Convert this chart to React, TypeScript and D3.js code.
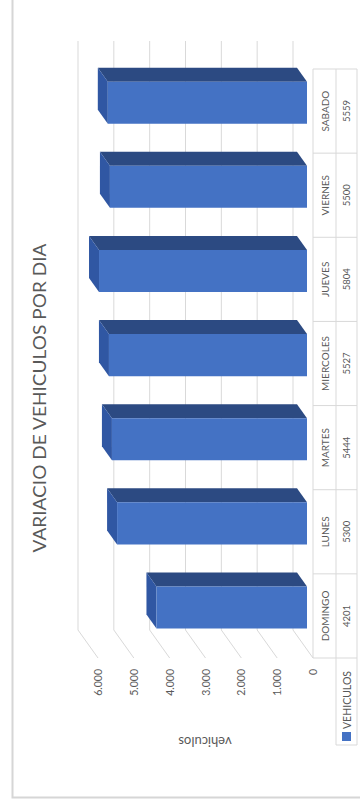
import React from "react";
import * as d3 from "d3";

const categories = ["DOMINGO", "LUNES", "MARTES", "MIERCOLES", "JUEVES", "VIERNES", "SABADO"];
const values = [4201, 5300, 5444, 5527, 5804, 5500, 5559];
const ticks = [0, 1000, 2000, 3000, 4000, 5000, 6000];
const tickLabels = ["0", "1.000", "2.000", "3.000", "4.000", "5.000", "6.000"];
const seriesName = "VEHICULOS";
const title = "VARIACIO DE VEHICULOS POR DIA";
const axisTitle = "vehiculos";

const W = 360;
const H = 805;
const FONT = "Lato, 'Open Sans', sans-serif";
const TXT = "#595959";
const GRID = "#d9d9d9";

export default function App() {
  // wall plane (depth 0): value -> screen x
  const x = d3.scaleLinear().domain([0, 6000]).range([293, 78]);
  const y = d3.scaleBand<string>().domain(categories).range([630, 41]);
  const DX = 20;
  const DY = 28;
  const p = (v: number, yy: number, z: number): [number, number] => [x(v) + DX * z, yy + DY * z];
  const zBack = 0.2;
  const zFront = 0.7;
  const bw = y.bandwidth();
  const wallTop = 41;
  const wallBottom = 630;
  const tableX0 = x(0) + DX;
  const tableX1 = 336;
  const tableX2 = 357;
  const poly = (pts: [number, number][]) => pts.map((q) => q.join(",")).join(" ");

  return (
    <svg width={W} height={H} style={{ position: "absolute", left: 0, top: 0, background: "#fff" }} fontFamily={FONT}>
      <rect x={0} y={0} width={W} height={H} fill="#fff" />
      {/* outer border */}
      <path d={`M12.5,-5 V797.5 H365`} fill="none" stroke="#d6d6d6" strokeWidth={2} />
      {/* title */}
      <text
        transform={`translate(39,398) rotate(-90)`}
        textAnchor="middle"
        dominantBaseline="central"
        fontSize={17}
        fill={TXT}
        textLength={309}
        lengthAdjust="spacingAndGlyphs"
      >
        {title}
      </text>
      {/* gridlines on wall + floor */}
      {ticks.map((t) => (
        <path
          key={t}
          d={`M${x(t)},${wallTop} V${wallBottom} L${x(t) + DX},${wallBottom + DY}`}
          fill="none"
          stroke={GRID}
          strokeWidth={1}
        />
      ))}
      {/* tick labels */}
      {ticks.map((t, i) => (
        <text
          key={"l" + t}
          transform={`translate(${x(t) + DX},669) rotate(-90)`}
          textAnchor="end"
          dominantBaseline="central"
          fontSize={10.5}
          fill={TXT}
        >
          {tickLabels[i]}
        </text>
      ))}
      {/* axis title */}
      <text
        transform={`translate(205,742) rotate(180)`}
        textAnchor="middle"
        dominantBaseline="central"
        fontSize={13}
        fill={TXT}
      >
        {axisTitle}
      </text>
      {/* bars */}
      {categories.map((c, i) => {
        const v = values[i];
        const y0 = (y(c) as number) + bw * 0.25;
        const y1 = y0 + bw * 0.5;
        const front: [number, number][] = [p(v, y0, zFront), p(0, y0, zFront), p(0, y1, zFront), p(v, y1, zFront)];
        const top: [number, number][] = [p(v, y0, zBack), p(0, y0, zBack), p(0, y0, zFront), p(v, y0, zFront)];
        const end: [number, number][] = [p(v, y0, zBack), p(v, y0, zFront), p(v, y1, zFront), p(v, y1, zBack)];
        return (
          <g key={c}>
            <polygon points={poly(top)} fill="#2c4a82" />
            <polygon points={poly(end)} fill="#3057a3" />
            <polygon points={poly(front)} fill="#4472c4" />
          </g>
        );
      })}
      {/* data table */}
      <g stroke={GRID} strokeWidth={1} fill="none">
        <line x1={tableX0} y1={wallTop + DY} x2={tableX0} y2={wallBottom + DY} />
        <line x1={tableX1} y1={wallTop + DY} x2={tableX1} y2={745} />
        <line x1={tableX2} y1={wallTop + DY} x2={tableX2} y2={745} />
        {categories.map((c) => (
          <line key={"h" + c} x1={tableX0} x2={tableX2} y1={(y(c) as number) + DY} y2={(y(c) as number) + DY} />
        ))}
        <line x1={tableX0} x2={tableX2} y1={wallBottom + DY} y2={wallBottom + DY} />
        <line x1={tableX1} x2={tableX2} y1={745} y2={745} />
      </g>
      {categories.map((c, i) => {
        const cy = (y(c) as number) + DY + bw / 2;
        return (
          <g key={"t" + c}>
            <text
              transform={`translate(${(tableX0 + tableX1) / 2 + 0.5},${cy}) rotate(-90)`}
              textAnchor="middle"
              dominantBaseline="central"
              fontSize={10}
              fill={TXT}
            >
              {c}
            </text>
            <text
              transform={`translate(${(tableX1 + tableX2) / 2},${cy}) rotate(-90)`}
              textAnchor="middle"
              dominantBaseline="central"
              fontSize={9.5}
              fill={TXT}
            >
              {values[i]}
            </text>
          </g>
        );
      })}
      {/* legend key */}
      <rect x={342} y={732} width={9} height={9} fill="#4472c4" />
      <text
        transform={`translate(${(tableX1 + tableX2) / 2},729) rotate(-90)`}
        textAnchor="start"
        dominantBaseline="central"
        fontSize={10.5}
        fill={TXT}
      >
        {seriesName}
      </text>
    </svg>
  );
}
